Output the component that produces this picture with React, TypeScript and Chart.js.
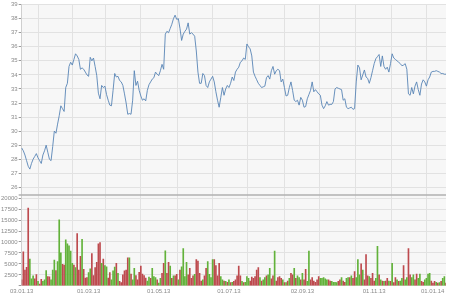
import React, { useEffect, useRef } from "react";
import { Chart, registerables } from "chart.js";

Chart.register(...registerables);

// ---- data ----
const firstTradingDay = "2013-01-03";

const closePrice = [
  28.8, 28.6, 28.3, 27.9, 27.5, 27.3, 27.7, 28.0, 28.2, 28.4,
  28.1, 27.9, 27.7, 28.3, 28.6, 29.0, 28.5, 28.0, 27.9, 28.9,
  30.0, 29.85, 30.5, 31.1, 31.8, 31.6, 31.4, 33.1, 33.4, 34.6,
  34.9, 34.7, 35.1, 35.5, 35.35, 35.1, 34.4, 34.5, 34.4, 34.2,
  34.0, 33.9, 35.25, 35.0, 35.2, 34.6, 33.95, 32.7, 32.3, 33.25,
  33.1, 33.2, 32.6, 32.2, 31.85, 31.8, 32.9, 34.1, 33.85, 33.9,
  33.6, 33.5, 33.25, 32.65, 32.0, 31.2, 31.25, 31.2, 32.2, 34.3,
  33.25, 33.55, 32.9, 32.5, 32.2, 32.3, 32.15, 32.9, 33.3, 33.5,
  33.7, 33.8, 34.2, 34.05, 33.95, 34.3, 34.75, 34.4, 36.9, 37.1,
  37.0, 37.3, 37.6, 38.0, 38.25, 37.95, 38.0, 37.3, 36.45, 36.9,
  37.1, 37.25, 37.7, 36.9, 37.0, 36.9, 36.75, 35.7, 34.2, 33.4,
  33.4, 34.1, 33.95, 33.25, 33.1, 33.5, 33.7, 33.9, 33.5, 32.8,
  32.2, 31.7, 32.4, 33.1, 32.55, 33.0, 33.25, 33.1, 33.4, 33.85,
  33.6, 34.2, 34.4, 34.55, 34.9, 35.0, 35.2, 35.1, 36.2, 36.0,
  35.85, 35.35, 34.2, 33.9, 33.65, 33.4, 33.25, 33.1, 33.15, 33.2,
  33.8, 33.95, 33.7, 34.3, 34.6, 34.05, 34.3, 34.4, 34.3, 33.5,
  33.7, 33.1, 32.5, 32.55, 33.1, 33.5, 32.9, 32.2, 32.1, 32.2,
  31.85, 32.4, 32.2, 31.7, 31.75, 32.3, 32.6, 32.9, 33.5, 32.8,
  32.95, 32.8, 32.65, 32.55, 31.85, 31.6, 31.8, 32.1, 31.85, 31.9,
  31.9, 32.1, 33.0, 33.1, 33.05, 33.0, 32.95, 32.2, 32.3, 31.7,
  31.6, 31.65, 31.7, 31.55, 31.6, 33.5, 34.7, 34.5, 33.65, 34.0,
  34.35, 33.85, 33.75, 33.4, 33.8, 34.3, 34.8, 35.15, 35.3, 35.45,
  34.6, 35.35, 34.6, 34.4, 34.55, 34.2, 34.8, 35.5, 35.2, 35.1,
  35.0, 34.9, 34.8, 34.65, 34.7, 34.8, 34.4, 32.65, 32.55, 33.1,
  32.65, 33.2, 33.5, 32.95, 32.55, 33.35, 33.65, 33.5, 33.2, 33.65,
  33.85, 34.2, 34.25, 34.25, 34.3, 34.25, 34.2, 34.1, 34.1, 34.05,
  34.05,
];

const volume = [
  1350, 7750, 3600, 4200, 17750, 6100, 1600, 2250, 1600, 2550,
  1000, 400, 1500, 1000, 1350, 3450, 2100, 2050, 1350, 3600,
  5850, 3450, 5500, 15050, 7500, 4900, 4750, 10500, 9600, 9100,
  7900, 5100, 4750, 4150, 11900, 3600, 6750, 10600, 3750, 1750,
  1900, 3000, 3850, 7350, 2350, 4150, 5350, 9600, 9850, 5100,
  6100, 4600, 4350, 1750, 3000, 1350, 3400, 4300, 5100, 2850,
  1000, 750, 2500, 3400, 3600, 6400, 6400, 2650, 1350, 4000,
  2350, 1350, 3100, 4500, 2650, 2350, 1750, 1100, 2000,
  1700, 4000, 2100, 1900, 1350, 600, 1700, 2850, 5100, 8000,
  2850, 5350, 4500, 1700, 2300, 2300, 2600, 1350, 3600, 4350,
  8500, 2100, 5350, 2500, 4000, 1700, 2300, 2600, 6000, 5650,
  2850, 1100, 1350, 2300, 4000, 5500, 2600, 1900, 6000, 6000,
  4600, 2300, 5100, 2100, 1350, 1100, 1000, 800, 1350, 750,
  800, 1000, 1350, 2300, 4500, 2250, 1000, 750, 800, 2100,
  1700, 1100, 2000, 1700, 2100, 3600, 4150, 1900, 1100, 1350,
  1900, 2300, 2500, 4000, 1600, 2250, 7900, 1100, 1900, 2100,
  1700, 1350, 750, 750, 1100, 1700, 2850, 2500, 4000, 1700,
  2300, 1900, 1350,
  2850, 1350, 3750, 1000, 7900, 1350, 1900, 1100, 800, 1350,
  2100, 1700, 1700, 1900, 1600, 1350, 1350, 1100, 1000, 800,
  800, 750, 1000, 1350, 1900, 1100, 800, 1700, 1900, 1900,
  2300, 1700, 3250, 1900, 6000, 2500, 5000, 3600, 1350, 7150,
  2300, 2100, 1700, 2850, 1100, 1700, 9000, 2500, 1350, 1100,
  1000, 1100, 1700, 1100, 1000, 5100, 750, 1900, 1350, 1000,
  1100, 1700, 4600, 1350, 1900, 8500, 2500, 1900, 2500, 1350,
  2650, 1700, 2650, 1000, 800, 1350, 1700, 2650, 2850, 1100,
  600, 1000, 800, 600, 750, 1000, 1700, 2100, 600,
];

// U = up day (green), D = down day (red)
const volumeDirection = [
  "DDDDDUUUDD", "UDDUUUDDUU", "UDUUUDDUUU", "UUDUDDDUDD", "DUUDDDDDDU",
  "DUUDDUUUDU", "DDDDDDUDUU", "DDDDDDDUU",
  "DUUUDUUDDU", "DDUDUDDUDU", "UUUDDDDUDD", "DDUDDUUUUD", "DDDUUDUDUD",
  "UDDDDDUDUU", "UDDDDDDUDU", "UDUUDDUDDD", "DUDUDUDDUD", "UUD",
  "UDDUUDDDDD", "DUUUUUDDUU", "UUDDUDDUUD", "UDDUUUDUDD", "DUDDDUUDUD",
  "UDDUDUDDUD", "UUDUUDDUUD", "DUUDDUUUUD", "DDUDUDUUD",
].join("");

const priceTicks = [26, 27, 28, 29, 30, 31, 32, 33, 34, 35, 36, 37, 38, 39];
const volumeTicks = [0, 2500, 5000, 7500, 10000, 12500, 15000, 17500, 20000];
const xTickLabels = ["03.01.13", "01.03.13", "01.05.13", "01.07.13", "02.09.13", "01.11.13", "01.01.14"];

// ---- helpers ----
function buildTradingDays(start: string, count: number): string[] {
  const out: string[] = [];
  const d = new Date(start + "T00:00:00Z");
  while (out.length < count) {
    const wd = d.getUTCDay();
    if (wd !== 0 && wd !== 6) {
      const dd = String(d.getUTCDate()).padStart(2, "0");
      const mm = String(d.getUTCMonth() + 1).padStart(2, "0");
      const yy = String(d.getUTCFullYear() % 100).padStart(2, "0");
      out.push(`${dd}.${mm}.${yy}`);
    }
    d.setUTCDate(d.getUTCDate() + 1);
  }
  return out;
}

const categories = buildTradingDays(firstTradingDay, closePrice.length);
const monthStarts = categories
  .map((c, i) => (i === 0 || c.slice(3) !== categories[i - 1].slice(3) ? i : -1))
  .filter((i) => i >= 0);
const volumeUp = volume.map((v, i) => (volumeDirection[i] === "U" ? v : null));
const volumeDown = volume.map((v, i) => (volumeDirection[i] === "D" ? v : null));

const FONT = { family: "'Liberation Sans', Arial, sans-serif", size: 6 };
const TEXT = "#8a8a8a";
const GRID = "#e2e2e2";

const panelPlugin = {
  id: "panelPlugin",
  beforeDraw(chart: any) {
    const { ctx, chartArea } = chart;
    ctx.save();
    ctx.fillStyle = "#ffffff";
    ctx.fillRect(0, 0, chart.width, chart.height);
    ctx.fillStyle = "#f7f7f7";
    ctx.fillRect(chartArea.left, chartArea.top, chartArea.right - chartArea.left, chartArea.bottom - chartArea.top);
    ctx.restore();
  },
  afterDraw(chart: any) {
    const { ctx, chartArea } = chart;
    const y = chart.scales.yPrice.bottom;
    ctx.save();
    ctx.strokeStyle = "#b0b0b0";
    ctx.lineWidth = 1.5;
    ctx.beginPath();
    ctx.moveTo(chartArea.left - 3, y);
    ctx.lineTo(chartArea.right, y);
    ctx.stroke();
    ctx.restore();
  },
};

export default function App() {
  const canvasRef = useRef<HTMLCanvasElement | null>(null);

  useEffect(() => {
    if (!canvasRef.current) return;
    const chart = new Chart(canvasRef.current, {
      type: "bar",
      data: {
        labels: categories,
        datasets: [
          {
            type: "line",
            data: closePrice,
            yAxisID: "yPrice",
            borderColor: "#5884b6",
            borderWidth: 0.9,
            pointRadius: 0,
            tension: 0,
            fill: false,
          } as any,
          {
            type: "bar",
            data: volumeUp,
            yAxisID: "yVol",
            backgroundColor: "#62b23a",
            barThickness: 1,
            grouped: false,
          } as any,
          {
            type: "bar",
            data: volumeDown,
            yAxisID: "yVol",
            backgroundColor: "#bd4a4e",
            barThickness: 1,
            grouped: false,
          } as any,
        ],
      },
      options: {
        animation: false,
        responsive: false,
        layout: { padding: { left: 0, right: 4, top: 0, bottom: 3 } },
        plugins: { legend: { display: false }, tooltip: { enabled: false } },
        scales: {
          x: {
            type: "category",
            offset: false,
            position: "bottom",
            grid: { color: GRID, drawTicks: false },
            border: { display: false },
            afterBuildTicks: (scale: any) => {
              scale.ticks = [{ value: 0 }, ...monthStarts.map((v) => ({ value: v }))];
            },
            ticks: {
              autoSkip: false,
              maxRotation: 0,
              minRotation: 0,
              align: "inner",
              padding: 2,
              font: FONT,
              color: TEXT,
              callback: (value: any, index: number) => {
                if (index === 0) return "";
                const lab = categories[value as number];
                return xTickLabels.includes(lab) ? lab : "";
              },
            },
          },
          yPrice: {
            type: "linear",
            position: "left",
            stack: "panels",
            stackWeight: 2.1,
            weight: 2,
            min: 25.45,
            max: 39,
            afterBuildTicks: (scale: any) => {
              scale.ticks = priceTicks.map((v) => ({ value: v }));
            },
            grid: { color: GRID, tickLength: 3, tickColor: "#9a9a9a" },
            border: { color: "#cfcfcf" },
            ticks: { autoSkip: false, font: FONT, color: TEXT, padding: 1, callback: (v: any) => String(v) },
          },
          yVol: {
            type: "linear",
            position: "left",
            stack: "panels",
            stackWeight: 1,
            weight: 1,
            min: 0,
            max: 20700,
            afterBuildTicks: (scale: any) => {
              scale.ticks = volumeTicks.map((v) => ({ value: v }));
            },
            grid: { color: GRID, tickLength: 3, tickColor: "#9a9a9a" },
            border: { color: "#cfcfcf" },
            ticks: {
              autoSkip: false,
              font: FONT,
              color: TEXT,
              padding: 1,
              callback: (v: any) => (v === 0 ? "" : String(v)),
            },
          },
        } as any,
      },
      plugins: [panelPlugin],
    });
    return () => chart.destroy();
  }, []);

  return (
    <div style={{ position: "absolute", left: 0, top: 0, width: 450, height: 300, background: "#fff" }}>
      <canvas ref={canvasRef} width={450} height={300} style={{ display: "block", width: 450, height: 300 }} />
    </div>
  );
}
